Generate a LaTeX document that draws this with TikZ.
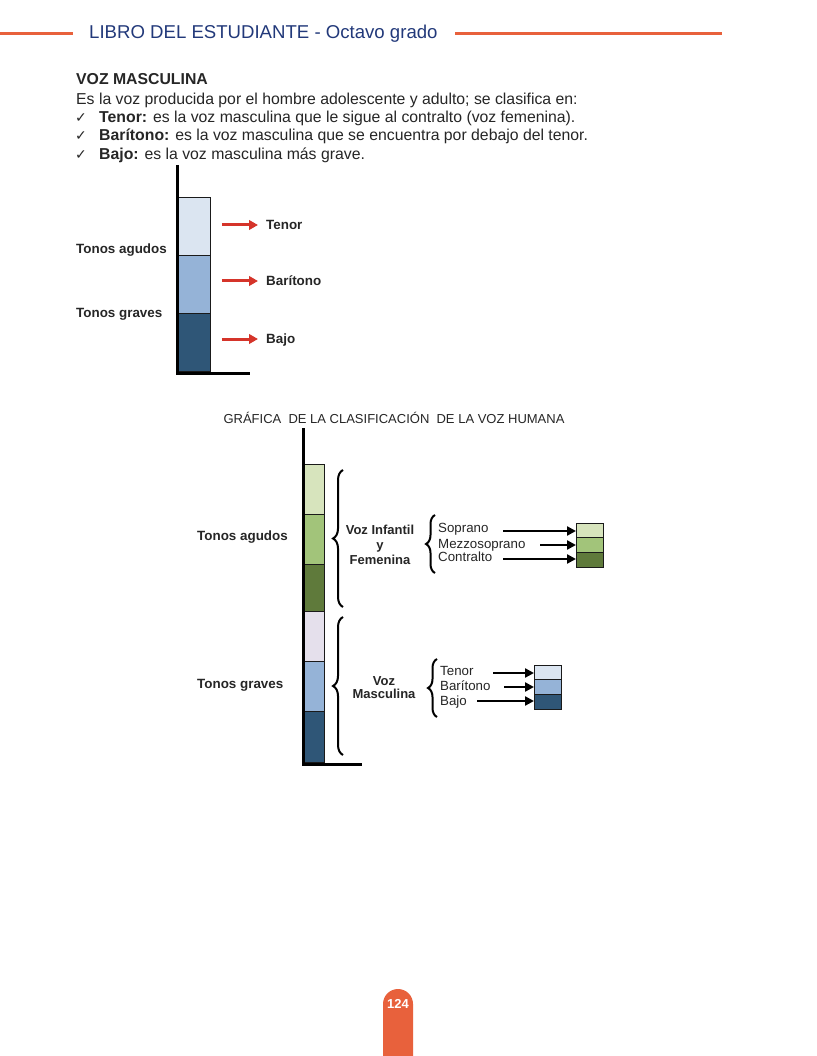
\documentclass[tikz,border=0pt]{standalone}
\usepackage{fontspec}
\setmainfont{Liberation Sans}
\newfontfamily\dejavu{DejaVu Sans}
\usetikzlibrary{arrows.meta,decorations.pathreplacing}
\definecolor{orng}{HTML}{E8613C}
\definecolor{hdrblue}{HTML}{22397A}
\definecolor{txt}{HTML}{262626}
\definecolor{arrred}{HTML}{D5342A}
\definecolor{lblue}{HTML}{DBE5F1}
\definecolor{mblue}{HTML}{95B3D7}
\definecolor{dblue}{HTML}{2F5677}
\definecolor{lgreen}{HTML}{D7E4BD}
\definecolor{mgreen}{HTML}{A2C47A}
\definecolor{dgreen}{HTML}{5F7A3B}
\definecolor{lav}{HTML}{E5E0EC}
\definecolor{edge}{HTML}{1A1A1A}
\begin{document}
\begin{tikzpicture}[x=1pt,y=-1pt,
  hdr/.style={font=\fontsize{18.6}{22}\selectfont, text=hdrblue, inner sep=0, anchor=west},
  body/.style={font=\fontsize{15.8}{18}\selectfont, text=txt, inner sep=0, anchor=base west},
  chk/.style={font=\dejavu\fontsize{14}{16}\selectfont, text=txt, inner sep=0, anchor=base west},
  lbl/.style={font=\bfseries\fontsize{13.4}{15}\selectfont, text=txt, inner sep=0, anchor=west, text height=9.6pt, text depth=0pt},
  clbl/.style={font=\bfseries\fontsize{13}{15}\selectfont, text=txt, inner sep=0, align=center},
  sm/.style={font=\fontsize{13.3}{15}\selectfont, text=txt, inner sep=0, anchor=west, text height=9.5pt, text depth=0pt},
  vbox/.style={draw=edge, line width=0.8pt, inner sep=0, anchor=north west},
  axis/.style={line width=3pt, black},
  redarrow/.style={draw=arrred, line width=3pt, -{Triangle[length=9pt,width=9.5pt]}},
  blkarrow/.style={draw=black, line width=2.5pt, -{Triangle[length=9pt,width=9pt]}},
  bracestyle/.style={decorate, line width=2pt, black},
  hline/.style={draw=orng, line width=3pt}
]
\useasboundingbox (0,0) rectangle (816,1056);
\fill[white] (0,0) rectangle (816,1056);

% header
\node[hdr] (title) at (89,34) {LIBRO DEL ESTUDIANTE - Octavo grado};
\coordinate (hl1) at (0,34); \coordinate (hl2) at (73,34);
\coordinate (hr1) at (455,34); \coordinate (hr2) at (722,34);
\draw[hline] (hl1) -- (hl2);
\draw[hline] (hr1) -- (hr2);

% text block
\node[body] (t0) at (76,85) {\textbf{VOZ MASCULINA}};
\node[body] (t1) at (76,105) {Es la voz producida por el hombre adolescente y adulto; se clasifica en:};
\node[chk] (c2) at (75,123) {✓};
\node[body] (t2) at (99,123) {\textbf{Tenor:} es la voz masculina que le sigue al contralto (voz femenina).};
\node[chk] (c3) at (75,141) {✓};
\node[body] (t3) at (99,141) {\textbf{Barítono:} es la voz masculina que se encuentra por debajo del tenor.};
\node[chk] (c4) at (75,160) {✓};
\node[body] (t4) at (99,160) {\textbf{Bajo:} es la voz masculina más grave.};

% chart 1
\node[vbox, fill=lblue, minimum width=33pt, minimum height=58pt] (a1) at (177,197) {};
\node[vbox, fill=mblue, minimum width=33pt, minimum height=58pt] (a2) at (177,255) {};
\node[vbox, fill=dblue, minimum width=33pt, minimum height=58pt] (a3) at (177,313) {};
\coordinate (ax1top) at (177,165); \coordinate (ax1o) at (177,373); \coordinate (ax1r) at (250,373);
\draw[axis] (ax1top) -- (ax1o) -- (ax1r);
\node[lbl] (tenA) at (266,225) {Tenor};
\node[lbl] (barA) at (266,281) {Barítono};
\node[lbl] (bajA) at (266,339) {Bajo};
\draw[redarrow, shorten <=11pt, shorten >=8pt] (a1.east |- tenA.west) -- (tenA.west);
\draw[redarrow, shorten <=11pt, shorten >=8pt] (a2.east |- barA.west) -- (barA.west);
\draw[redarrow, shorten <=11pt, shorten >=8pt] (a3.east |- bajA.west) -- (bajA.west);
\node[lbl] (agA) at (76,249) {Tonos agudos};
\node[lbl] (grA) at (76,313) {Tonos graves};

% caption
\node[font=\fontsize{13}{15}\selectfont, text=txt, inner sep=0] (cap) at (394,418) {GRÁFICA\ \ DE LA CLASIFICACIÓN\ \ DE LA VOZ HUMANA};

% chart 2
\node[vbox, fill=lgreen, minimum width=21pt, minimum height=50pt] (g1) at (303,464) {};
\node[vbox, fill=mgreen, minimum width=21pt, minimum height=50pt] (g2) at (303,514) {};
\node[vbox, fill=dgreen, minimum width=21pt, minimum height=47pt] (g3) at (303,564) {};
\node[vbox, fill=lav, minimum width=21pt, minimum height=50pt] (m1) at (303,611) {};
\node[vbox, fill=mblue, minimum width=21pt, minimum height=50pt] (m2) at (303,661) {};
\node[vbox, fill=dblue, minimum width=21pt, minimum height=51pt] (m3) at (303,711) {};
\coordinate (ax2top) at (303,428); \coordinate (ax2o) at (303,764); \coordinate (ax2r) at (362,764);
\draw[axis] (ax2top) -- (ax2o) -- (ax2r);

\node[lbl] (agB) at (197,536) {Tonos agudos};
\node[lbl] (grB) at (197,684) {Tonos graves};

\draw[bracestyle, decoration={brace, amplitude=10pt}] (343,607) -- (343,470);
\draw[bracestyle, decoration={brace, amplitude=10pt}] (343,755) -- (343,617);

\node[clbl] (vif) at (380,545) {Voz Infantil\\[0pt]y\\[0pt]Femenina};
\node[clbl] (vm) at (384,688) {Voz\\[-2pt]Masculina};

\draw[bracestyle, decoration={brace, amplitude=9pt}] (435,573) -- (435,515);
\draw[bracestyle, decoration={brace, amplitude=9pt}] (437,717) -- (437,659);

\node[sm] (sop) at (438,528) {Soprano};
\node[sm] (mez) at (438,544) {Mezzosoprano};
\node[sm] (con) at (438,557) {Contralto};
\node[sm] (ten) at (440,671) {Tenor};
\node[sm] (bar) at (440,686) {Barítono};
\node[sm] (baj) at (440,701) {Bajo};

\node[vbox, fill=lgreen, minimum width=27pt, minimum height=14pt] (s1) at (576,523) {};
\node[vbox, fill=mgreen, minimum width=27pt, minimum height=15pt] (s2) at (576,537) {};
\node[vbox, fill=dgreen, minimum width=27pt, minimum height=15pt] (s3) at (576,552) {};
\node[vbox, fill=lblue, minimum width=27pt, minimum height=14pt] (n1) at (534,665) {};
\node[vbox, fill=mblue, minimum width=27pt, minimum height=15pt] (n2) at (534,679) {};
\node[vbox, fill=dblue, minimum width=27pt, minimum height=15pt] (n3) at (534,694) {};

\coordinate (sa) at (503,531); \coordinate (ma) at (540,545); \coordinate (ca) at (503,559);
\coordinate (ta) at (493,673); \coordinate (ba) at (504,687); \coordinate (ja) at (477,701);
\draw[blkarrow] (sa) -- (s1.west |- sa);
\draw[blkarrow] (ma) -- (s2.west |- ma);
\draw[blkarrow] (ca) -- (s3.west |- ca);
\draw[blkarrow] (ta) -- (n1.west |- ta);
\draw[blkarrow] (ba) -- (n2.west |- ba);
\draw[blkarrow] (ja) -- (n3.west |- ja);

% page tab
\fill[orng] (383,1056) {[rounded corners=15pt] -- (383,989) -- (413,989)} -- (413,1056) -- cycle;
\node[font=\bfseries\fontsize{13}{15}\selectfont, text=white, inner sep=0] (pg) at (398,1004) {124};
\end{tikzpicture}
\end{document}
